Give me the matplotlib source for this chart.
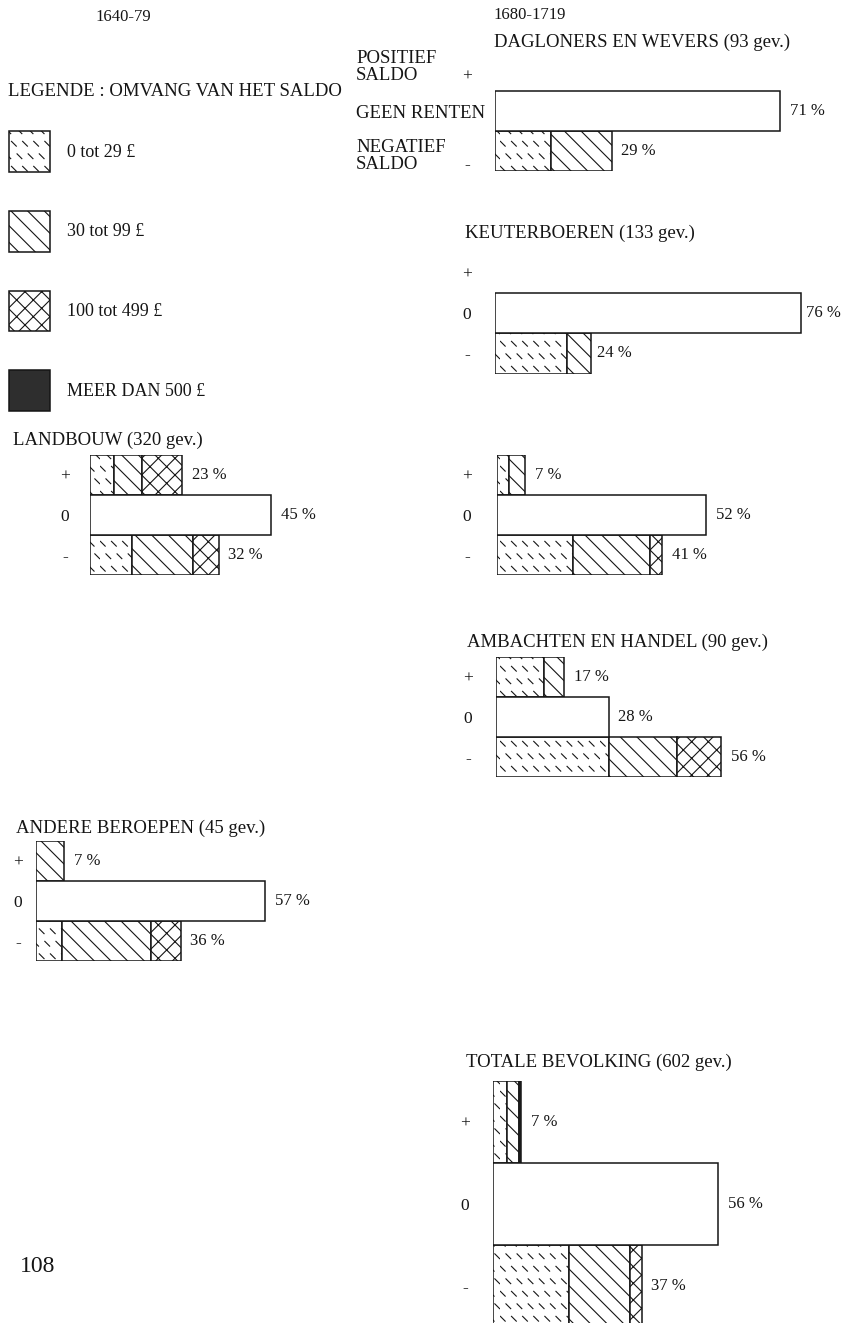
import matplotlib
matplotlib.use('Agg')
import matplotlib.pyplot as plt
import matplotlib.hatch as mhatch
from matplotlib.patches import Patch
from matplotlib.path import Path

# klassen van het saldo (legende) en de drie rijen van elk paneel
klassen = ['0 tot 29 £', '30 tot 99 £', '100 tot 499 £', 'MEER DAN 500 £']
rijen = ['+', '0', '-']

# aandeel (%) per klasse: positief saldo / geen renten / negatief saldo
dagloners_plus = [0, 0, 0, 0]
dagloners_nul = 71
dagloners_min = [14, 15, 0, 0]
dagloners_pct = [None, '71 %', '29 %']

keuter_plus = [0, 0, 0, 0]
keuter_nul = 76
keuter_min = [18, 6, 0, 0]
keuter_pct = [None, '76 %', '24 %']

landbouw1_plus = [6, 7, 10, 0]
landbouw1_nul = 45
landbouw1_min = [10.5, 15, 6.5, 0]
landbouw1_pct = ['23 %', '45 %', '32 %']

landbouw2_plus = [3, 4, 0, 0]
landbouw2_nul = 52
landbouw2_min = [19, 19, 3, 0]
landbouw2_pct = ['7 %', '52 %', '41 %']

ambacht_plus = [12, 5, 0, 0]
ambacht_nul = 28
ambacht_min = [28, 17, 11, 0]
ambacht_pct = ['17 %', '28 %', '56 %']

andere_plus = [0, 7, 0, 0]
andere_nul = 57
andere_min = [6.5, 22, 7.5, 0]
andere_pct = ['7 %', '57 %', '36 %']

totaal_plus = [3.5, 3, 0, 0.5]
totaal_nul = 56
totaal_min = [19, 15, 3, 0]
totaal_pct = ['7 %', '56 %', '37 %']


# short "\" strokes in a loose grid, used instead of the '.' hatch
class StreepjesHatch(mhatch.HatchPatternBase):
    def __init__(self, hatch, density):
        self.kol, self.rij = 9, 8
        self.num_lines = self.kol * self.rij if '.' in hatch else 0
        self.num_vertices = self.num_lines * 2

    def set_vertices_and_codes(self, vertices, codes):
        d = 0.024
        i = 0
        for r in range(self.rij):
            for c in range(self.kol):
                x = (c + 0.25 + 0.5 * (r % 2)) / self.kol
                y = (r + 0.5) / self.rij
                vertices[i] = (x - d, y + d)
                vertices[i + 1] = (x + d, y - d)
                codes[i] = Path.MOVETO
                codes[i + 1] = Path.LINETO
                i += 2


namen = [h.__name__ for h in mhatch._hatch_types]
if 'SmallFilledCircles' in namen:
    mhatch._hatch_types[namen.index('SmallFilledCircles')] = StreepjesHatch
else:
    mhatch._hatch_types.append(StreepjesHatch)

plt.rcParams['font.family'] = ['Liberation Serif', 'DejaVu Serif']
plt.rcParams['hatch.linewidth'] = 0.8

INK = '#151515'
W, H = 844, 1323
PX = 4.02      # pixels per procent
XMAX = 82

stijl = [
    dict(facecolor='white', hatch='.'),
    dict(facecolor='white', hatch='\\\\'),
    dict(facecolor='white', hatch='xx'),
    dict(facecolor='#2e2e2e'),
]

fig = plt.figure(figsize=(W / 100, H / 100), dpi=100)
fig.patch.set_facecolor('white')


def tekst(x, y, s, **kw):
    kw.setdefault('va', 'center')
    kw.setdefault('ha', 'left')
    kw.setdefault('color', INK)
    fig.text(x / W, 1 - y / H, s, **kw)


def paneel(x0, top, rij_h, plus, nul, minus, pct, tick_px=28, ticks=True, gap=7):
    ax = fig.add_axes([x0 / W, 1 - (top + 3 * rij_h) / H,
                       XMAX * PX / W, 3 * rij_h / H])
    ax.set_xlim(0, XMAX)
    ax.set_ylim(-0.5, 2.5)
    ax.set_frame_on(False)
    ax.set_xticks([])
    if ticks:
        ax.set_yticks([2, 1, 0], rijen, ha='center')
        ax.tick_params(axis='y', length=0, pad=tick_px * 0.72,
                       labelsize=12.5, labelcolor=INK)
    else:
        ax.set_yticks([])

    for rij, delen in ((2, plus), (0, minus)):
        links = 0
        for k, d in enumerate(delen):
            if d > 0:
                ax.barh(rij, d, left=links, height=1.0, edgecolor=INK,
                        linewidth=1.1, **stijl[k])
            links += d
    ax.barh(1, nul, height=1.0, facecolor='white', edgecolor=INK,
            linewidth=1.1)

    totalen = [sum(plus), nul, sum(minus)]
    for rij, tot, lab in zip([2, 1, 0], totalen, pct):
        if lab:
            ax.annotate(lab, (tot, rij), xytext=(gap, 0),
                        textcoords='offset points', va='center', ha='left',
                        fontsize=12, color=INK)
    return ax


# periodes
tekst(95, 17, '1640-79', fontsize=12)
tekst(493, 15, '1680-1719', fontsize=12)

# legende
tekst(8, 92, 'LEGENDE : OMVANG VAN HET SALDO', fontsize=13.5)
handles = [Patch(edgecolor=INK, linewidth=1.1, label=k, **s)
           for k, s in zip(klassen, stijl)]
fig.legend(handles=handles, loc='upper left', bbox_to_anchor=(9 / W, 1 - 131 / H),
           frameon=False, fontsize=13, handlelength=2.27, handleheight=3.1,
           labelspacing=2.16, handletextpad=0.95, borderpad=0, borderaxespad=0,
           labelcolor=INK)

# 1680-1719: dagloners en wevers, met uitgeschreven rijnamen
tekst(494, 42, 'DAGLONERS EN WEVERS (93 gev.)', fontsize=13.5)
tekst(356, 67, 'POSITIEF\nSALDO', fontsize=13.5, linespacing=1.0)
tekst(467, 77, '+', fontsize=12.5, ha='center')
tekst(356, 113, 'GEEN RENTEN', fontsize=13.5)
tekst(356, 156, 'NEGATIEF\nSALDO', fontsize=13.5, linespacing=1.0)
tekst(467, 165, '-', fontsize=12.5, ha='center')
paneel(495, 51, 40, dagloners_plus, dagloners_nul, dagloners_min,
       dagloners_pct, ticks=False)

tekst(465, 233, 'KEUTERBOEREN (133 gev.)', fontsize=13.5)
paneel(495, 252, 40.5, keuter_plus, keuter_nul, keuter_min, keuter_pct, gap=4)

tekst(13, 440, 'LANDBOUW (320 gev.)', fontsize=13.5)
paneel(90, 455, 40, landbouw1_plus, landbouw1_nul, landbouw1_min,
       landbouw1_pct, tick_px=25)
paneel(497, 455, 40, landbouw2_plus, landbouw2_nul, landbouw2_min,
       landbouw2_pct, tick_px=30)

tekst(467, 642, 'AMBACHTEN EN HANDEL (90 gev.)', fontsize=13.5)
paneel(496, 657, 40, ambacht_plus, ambacht_nul, ambacht_min, ambacht_pct)

tekst(16, 828, 'ANDERE BEROEPEN (45 gev.)', fontsize=13.5)
paneel(36, 841, 40, andere_plus, andere_nul, andere_min, andere_pct,
       tick_px=18)

tekst(466, 1062, 'TOTALE BEVOLKING (602 gev.)', fontsize=13.5)
paneel(493, 1081, 82, totaal_plus, totaal_nul, totaal_min, totaal_pct)

tekst(20, 1267, '108', fontsize=17)

fig.savefig('out.png', dpi=100, facecolor='white')
